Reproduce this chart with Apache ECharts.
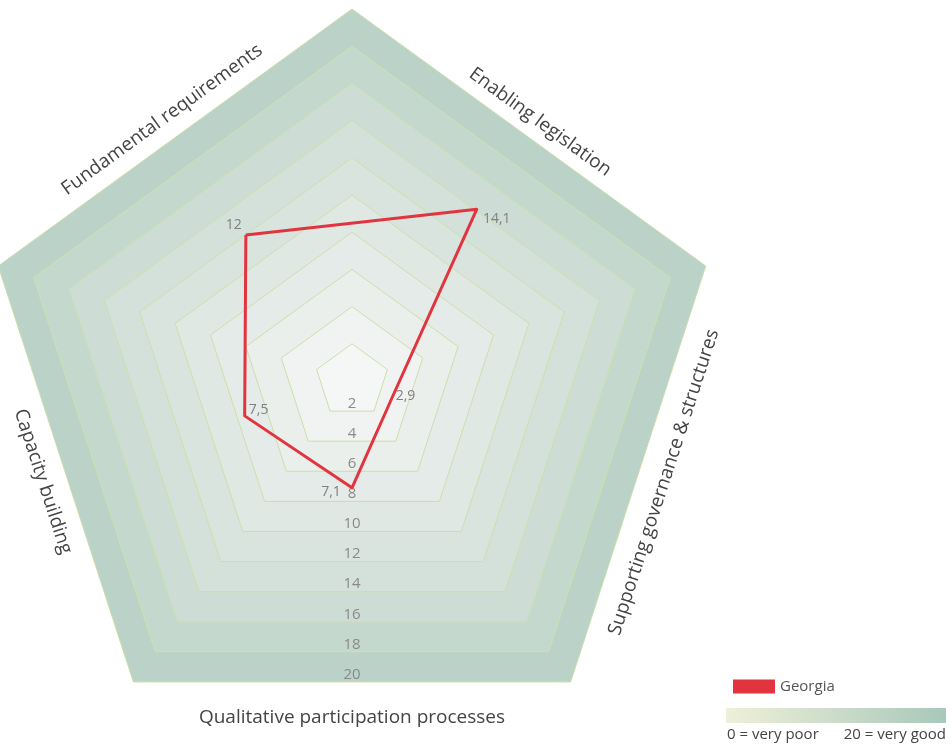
<!DOCTYPE html>
<html>
<head>
    <meta charset="utf-8">
    <title>Georgia radar</title>
    <script src="https://cdn.jsdelivr.net/npm/echarts@6/dist/echarts.min.js"></script>
</head>
<body style="margin:0">
    <div id="main" style="width: 952px;height:749px;"></div>
    <script type="text/javascript">
        // data, counterclockwise starting from upper-left edge
        var axisNames = ['Fundamental requirements', 'Capacity building', 'Qualitative participation processes', 'Supporting governance & structures', 'Enabling legislation'];
        var georgia = [12, 7.5, 7.1, 2.9, 14.1];
        var seriesName = 'Georgia';
        var scaleMin = 0;
        var scaleMax = 20;
        var tickStep = 2;
        var scaleText = ['0 = very poor', '20 = very good'];

        // layout
        var cx = 352, cy = 381, R = 372;
        var apothem = R * Math.cos(Math.PI / 5);
        var nameDist = [323, 325, 337, 328, 320];
        // value label shift from its point, per axis
        var labelShift = [[-12, -10], [14, -6], [-21, 4], [12, 2], [20, 10]];
        var ringColors = ['#f5f7f6', '#f0f3f1', '#eaefec', '#e5ebe8', '#e0e8e4', '#dae4df', '#d4e0da', '#cddcd4', '#c5d8ce', '#bad2c7'];
        var font = '"Open Sans", sans-serif';

        var bgIndicators = axisNames.map(function () {
            return { name: '', min: scaleMin, max: scaleMax };
        });
        var dataIndicators = axisNames.map(function (n, i) {
            return {
                name: n, min: scaleMin, max: scaleMax,
                axisLabel: { show: i === 2 }
            };
        });

        var rich = {};
        labelShift.forEach(function (s, i) {
            rich['v' + i] = {
                color: '#808080', fontSize: 14,
                padding: [s[1] > 0 ? 2 * s[1] : 0, s[0] < 0 ? -2 * s[0] : 0, s[1] < 0 ? -2 * s[1] : 0, s[0] > 0 ? 2 * s[0] : 0]
            };
        });

        var graphics = axisNames.map(function (n, i) {
            var th = (126 + 72 * i) * Math.PI / 180;
            var rot = (126 + 72 * i) - 90;
            while (rot > 90) rot -= 180;
            while (rot <= -90) rot += 180;
            return {
                type: 'text',
                x: cx + nameDist[i] * Math.cos(th),
                y: cy - nameDist[i] * Math.sin(th),
                rotation: rot * Math.PI / 180,
                style: {
                    text: n, fill: '#444', fontSize: 19, fontFamily: font,
                    align: 'center', verticalAlign: 'middle'
                }
            };
        });
        graphics.push({
            type: 'rect', left: 726, top: 708,
            shape: { width: 220, height: 15 },
            style: {
                fill: new echarts.graphic.LinearGradient(0, 0, 1, 0, [
                    { offset: 0, color: '#eef0d8' }, { offset: 1, color: '#a8c8bb' }
                ])
            }
        });
        graphics.push({
            type: 'text', left: 727, top: 727,
            style: { text: scaleText[0], fill: '#444', fontSize: 15, fontFamily: font }
        });
        graphics.push({
            type: 'text', right: 6, top: 727,
            style: { text: scaleText[1], fill: '#444', fontSize: 15, fontFamily: font }
        });

        var myChart = echarts.init(document.getElementById('main'));
        myChart.setOption({
            animation: false,
            textStyle: { fontFamily: font },
            legend: {
                data: [seriesName],
                left: 728, top: 674,
                icon: 'rect', itemWidth: 42, itemHeight: 14,
                textStyle: { color: '#555', fontSize: 15 }
            },
            radar: [
                {
                    center: [cx, cy], radius: R, startAngle: 90,
                    splitNumber: 10, shape: 'polygon',
                    indicator: bgIndicators,
                    axisName: { show: false },
                    axisLine: { show: false },
                    splitLine: { lineStyle: { color: '#cadfa9', width: 1 } },
                    splitArea: { areaStyle: { color: ringColors } }
                },
                {
                    center: [cx, cy], radius: apothem, startAngle: 126,
                    splitNumber: (scaleMax - scaleMin) / tickStep, shape: 'polygon',
                    indicator: dataIndicators,
                    axisName: { show: false },
                    axisLine: { show: false },
                    splitLine: { show: false },
                    splitArea: { show: false },
                    axisLabel: {
                        show: false, showMinLabel: false,
                        color: '#8a8a8a', fontSize: 15, margin: 0,
                        align: 'center', verticalAlign: 'bottom'
                    }
                }
            ],
            graphic: graphics,
            series: [{
                name: seriesName,
                type: 'radar',
                radarIndex: 1,
                symbol: 'circle',
                symbolSize: 1,
                itemStyle: { color: '#e2343f' },
                lineStyle: { color: '#e2343f', width: 3 },
                label: {
                    show: true, position: 'inside',
                    formatter: function (p) {
                        var i = georgia.indexOf(p.value);
                        return '{v' + i + '|' + String(p.value).replace('.', ',') + '}';
                    },
                    rich: rich
                },
                data: [{ value: georgia, name: seriesName }]
            }]
        });
    </script>
</body>
</html>
